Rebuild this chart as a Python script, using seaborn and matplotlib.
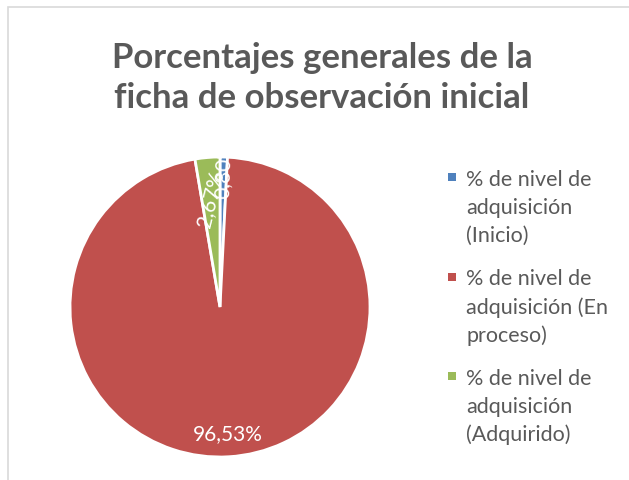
import matplotlib
matplotlib.use("Agg")
import matplotlib.pyplot as plt
import seaborn as sns
import numpy as np
from matplotlib.patches import Rectangle

sns.set_theme(style="white")
plt.rcParams['font.family'] = ['Lato', 'DejaVu Sans']

categories = ["% de nivel de\nadquisición\n(Inicio)",
              "% de nivel de\nadquisición (En\nproceso)",
              "% de nivel de\nadquisición\n(Adquirido)"]
values = [0.80, 96.53, 2.67]
value_labels = ["0,80%", "96,53%", "2,67%"]
colors = ["#4F81BD", "#C0504D", "#9BBB59"]
title = "Porcentajes generales de la\nficha de observación inicial"

W, H = 629, 481
fig = plt.figure(figsize=(W/100, H/100), dpi=100)
fig.patch.set_facecolor("white")
fig.patches.append(Rectangle((8/W, -0.01), 1.0, 1 - 8/H + 0.01, transform=fig.transFigure,
                             fill=False, edgecolor="#D9D9D9", linewidth=1.2))

cx, cy, r = 220, 308, 150
ax = fig.add_axes([(cx - r)/W, (H - cy - r)/H, 2*r/W, 2*r/H])
wedges, _ = ax.pie(values, colors=colors, startangle=90, counterclock=False,
                   wedgeprops=dict(edgecolor="white", linewidth=2))
ax.set_xlim(-1, 1); ax.set_ylim(-1, 1); ax.set_aspect("equal")
ax.axis("off")

radii = [0.92, 0.84, 0.73]
rots = [88, 0, 76]
for w, lab, rr, rot in zip(wedges, value_labels, radii, rots):
    mid = np.deg2rad((w.theta1 + w.theta2) / 2)
    ax.text(rr*np.cos(mid), rr*np.sin(mid), lab, color="white", fontsize=15,
            ha="center", va="center", rotation=rot, rotation_mode="anchor")

fig.text(322/W, 1 - 78/H, title, ha="center", va="center", fontsize=25,
         fontweight="bold", color="#595959", linespacing=1.3)

# legend (manual, markers aligned with first line of each entry)
y0, item_gap, line_gap = 178, 99.5, 28
for i, (cat, col) in enumerate(zip(categories, colors)):
    yi = y0 + i*item_gap
    fig.patches.append(Rectangle((448/W, 1 - (yi + 4)/H), 8/W, 8/H, transform=fig.transFigure,
                                 facecolor=col, edgecolor="none"))
    for j, line in enumerate(cat.split("\n")):
        fig.text(466/W, 1 - (yi + j*line_gap)/H, line, ha="left", va="center_baseline",
                 fontsize=15.5, color="#595959")

fig.savefig("out.png", dpi=100, facecolor="white")
